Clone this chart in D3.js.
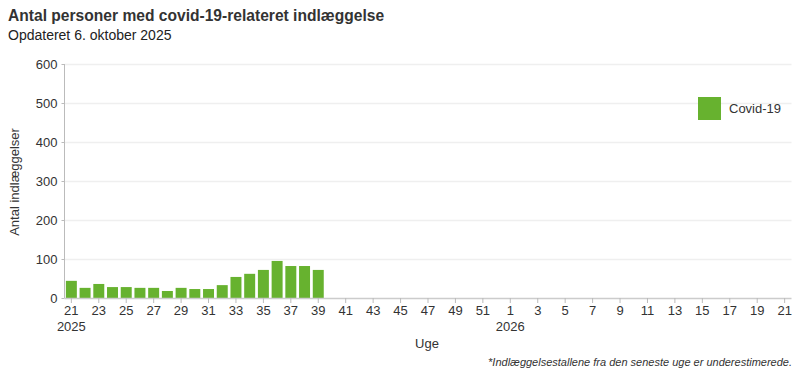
<!DOCTYPE html>
<html><head><meta charset="utf-8">
<script src="https://cdn.jsdelivr.net/npm/d3@7"></script>
<style>body{margin:0;background:#fff;font-family:"Liberation Sans",Arial,sans-serif;}</style>
</head><body><svg id="c" width="800" height="375"></svg>
<script>
// Weeks: 2025 week 21..52, 2026 week 1..21
const weeks2025 = d3.range(21, 53);
const weeks2026 = d3.range(1, 22);
const categories = weeks2025.map(w => "2025-" + w).concat(weeks2026.map(w => "2026-" + w));
const covidWeeks = [21,22,23,24,25,26,27,28,29,30,31,32,33,34,35,36,37,38,39];
const covidValues = [44,26,36,28,28,26,26,18,26,23,23,33,54,62,72,95,82,82,72];
const yTicks = [0,100,200,300,400,500,600];
const title = "Antal personer med covid-19-relateret indlæggelse";
const subtitle = "Opdateret 6. oktober 2025";
const seriesName = "Covid-19";
const color = "#67b22f";

const svg = d3.select("#c");
const mLeft = 64.5, mRight = 791.5, mTop = 64, mBottom = 298;
const x = d3.scaleBand().domain(categories).range([mLeft, mRight]).paddingInner(0.2).paddingOuter(0.1);
const y = d3.scaleLinear().domain([0, 600]).range([mBottom, mTop]);

svg.append("text").attr("x", 8).attr("y", 21).attr("font-size", 15.6).attr("font-weight", "bold").attr("fill", "#333").text(title);
svg.append("text").attr("x", 8).attr("y", 40).attr("font-size", 14).attr("fill", "#222").text(subtitle);

// grid
svg.append("g").selectAll("line").data(yTicks.filter(t => t > 0)).join("line")
  .attr("x1", mLeft).attr("x2", mRight).attr("y1", d => y(d) + 0.5).attr("y2", d => y(d) + 0.5)
  .attr("stroke", "#efefef").attr("stroke-width", 1.5);

// y axis
const yAxis = svg.append("g").attr("transform", `translate(${mLeft},0)`)
  .call(d3.axisLeft(y).tickValues(yTicks).tickSize(3).tickPadding(4));
yAxis.select(".domain").attr("stroke", "#bbb").attr("d", `M0,${mTop}V${mBottom}`);
yAxis.selectAll(".tick line").attr("stroke", "#bbb");
yAxis.selectAll("text").attr("font-size", 13).attr("fill", "#333").attr("font-family", "Liberation Sans, Arial, sans-serif");

svg.append("text").attr("transform", `translate(19,182) rotate(-90)`).attr("text-anchor", "middle")
  .attr("font-size", 13).attr("fill", "#333").text("Antal indlæggelser");

// bars
svg.append("g").selectAll("rect").data(covidWeeks.map((w, i) => ({k: "2025-" + w, v: covidValues[i]}))).join("rect")
  .attr("x", d => x(d.k)).attr("width", x.bandwidth())
  .attr("y", d => y(d.v)).attr("height", d => y(0) - y(d.v)).attr("fill", color);

// x axis
const oddTicks = categories.filter(c => +c.split("-")[1] % 2 === 1);
const xAxis = svg.append("g").attr("transform", `translate(0,${mBottom})`)
  .call(d3.axisBottom(x).tickValues(oddTicks).tickSize(5).tickPadding(3).tickFormat(c => c.split("-")[1]));
xAxis.select(".domain").attr("stroke", "#ccc").attr("stroke-width", 1.5).attr("d", `M${mLeft},0.5H${mRight}`);
xAxis.selectAll(".tick line").attr("stroke", "#bbb");
xAxis.selectAll("text").attr("font-size", 13).attr("fill", "#333").attr("font-family", "Liberation Sans, Arial, sans-serif");

// year labels
[["2025-21", "2025"], ["2026-1", "2026"]].forEach(([k, t]) => {
  svg.append("text").attr("x", x(k) + x.bandwidth() / 2).attr("y", 331).attr("text-anchor", "middle")
    .attr("font-size", 13).attr("fill", "#333").text(t);
});
svg.append("text").attr("x", 427).attr("y", 348).attr("text-anchor", "middle").attr("font-size", 13).attr("fill", "#333").text("Uge");
svg.append("text").attr("x", 792).attr("y", 366).attr("text-anchor", "end").attr("font-size", 11)
  .attr("font-style", "italic").attr("fill", "#333").text("*Indlæggelsestallene fra den seneste uge er underestimerede.");

// legend
svg.append("rect").attr("x", 698).attr("y", 97).attr("width", 23).attr("height", 23).attr("fill", color);
svg.append("text").attr("x", 729).attr("y", 113).attr("font-size", 13).attr("fill", "#333").text(seriesName);
</script></body></html>
